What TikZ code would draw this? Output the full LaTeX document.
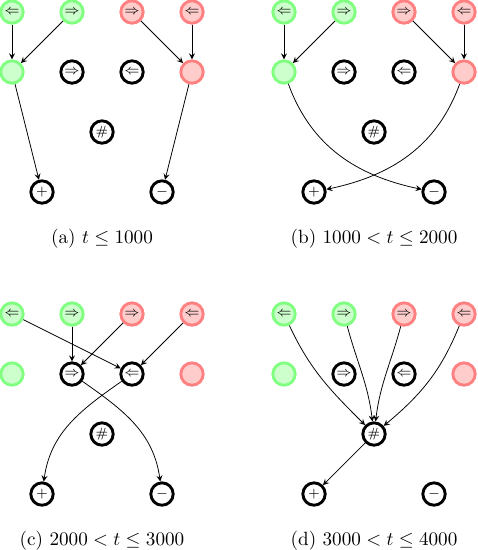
\documentclass[tikz,border=0pt]{standalone}
\usetikzlibrary{arrows}

\tikzset{
  state/.style={draw, circle, line width=1.5pt, minimum size=0.41cm, inner sep=0pt, font=\scriptsize},
  green state/.style={state, draw=green!50, fill=green!20},
  red state/.style={state, draw=red!50, fill=red!20},
}

% nodes of one panel: #1 name, #2 and #3 shift, #4 caption
\newcommand{\drawpanel}[4]{
\begin{scope}[shift={(#2,#3)}]
\node[green state] (#1-gl) at (0,0) {$\Leftarrow$};
\node[green state] (#1-gr) at (1.1,0) {$\Rightarrow$};
\node[red state] (#1-rr) at (2.2,0) {$\Rightarrow$};
\node[red state] (#1-rl) at (3.3,0) {$\Leftarrow$};
\node[green state] (#1-g) at (0,-1.1) {};
\node[state] (#1-mr) at (1.1,-1.1) {$\Rightarrow$};
\node[state] (#1-ml) at (2.2,-1.1) {$\Leftarrow$};
\node[red state] (#1-r) at (3.3,-1.1) {};
\node[state] (#1-hash) at (1.65,-2.2) {$\#$};
\node[state] (#1-plus) at (0.55,-3.3) {$+$};
\node[state] (#1-minus) at (2.75,-3.3) {$-$};
\node (#1-cap) at (1.65,-4.15) {#4};
\end{scope}
}

\begin{document}
\begin{tikzpicture}[>=stealth]
\useasboundingbox (-0.22,0.22) rectangle (8.543,-9.863);

\drawpanel{a}{0}{0}{(a) $t \leq 1000$}
\drawpanel{b}{4.987}{0}{(b) $1000 < t \leq 2000$}
\drawpanel{c}{0}{-5.537}{(c) $2000 < t \leq 3000$}
\drawpanel{d}{4.987}{-5.537}{(d) $3000 < t \leq 4000$}

% (a)
\draw[->] (a-gl) -- (a-g);
\draw[->] (a-gr) -- (a-g);
\draw[->] (a-rr) -- (a-r);
\draw[->] (a-rl) -- (a-r);
\draw[->] (a-g) -- (a-plus);
\draw[->] (a-r) -- (a-minus);

% (b)
\draw[->] (b-gl) -- (b-g);
\draw[->] (b-gr) -- (b-g);
\draw[->] (b-rr) -- (b-r);
\draw[->] (b-rl) -- (b-r);
\draw[->] (b-g) to[out=-70, in=168] (b-minus);
\draw[->] (b-r) to[out=-110, in=12] (b-plus);

% (c)
\draw[->] (c-gl) -- (c-ml);
\draw[->] (c-gr) -- (c-mr);
\draw[->] (c-rr) -- (c-mr);
\draw[->] (c-rl) -- (c-ml);
\draw[->] (c-mr) to[out=-35, in=98] (c-minus);
\draw[->] (c-ml) to[out=-145, in=82] (c-plus);

% (d)
\draw[->] (d-gl) to[out=-65, in=135] (d-hash);
\draw[->] (d-gr) to[out=-75, in=97] (d-hash);
\draw[->] (d-rr) to[out=-105, in=83] (d-hash);
\draw[->] (d-rl) to[out=-112, in=40] (d-hash);
\draw[->] (d-hash) -- (d-plus);
\end{tikzpicture}
\end{document}
